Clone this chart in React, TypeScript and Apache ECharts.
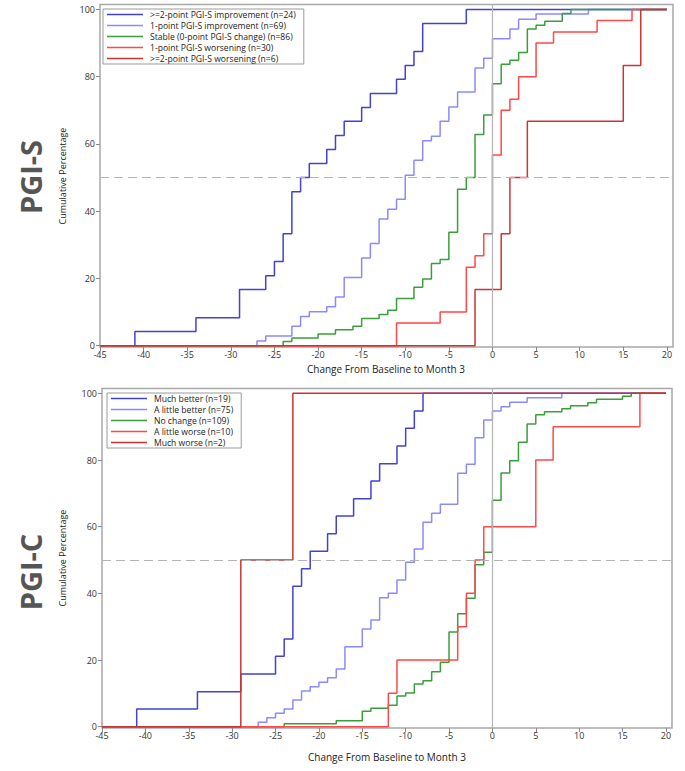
import React, { useEffect, useRef } from "react";
import * as echarts from "echarts";

// ---------- Data (change from baseline, cumulative %) ----------
const xTicks = [-45, -40, -35, -30, -25, -20, -15, -10, -5, 0, 5, 10, 15, 20];
const yTicks = [0, 20, 40, 60, 80, 100];

// PGI-S panel
const pgisNames = [
  ">=2-point PGI-S improvement (n=24)",
  "1-point PGI-S improvement (n=69)",
  "Stable (0-point PGI-S change) (n=86)",
  "1-point PGI-S worsening (n=30)",
  ">=2-point PGI-S worsening (n=6)",
];
const sImp2X = [-41, -34, -29, -26, -25, -24, -23, -22, -21, -19, -18, -17, -15, -14, -11, -10, -9, -8, -3];
const sImp2Y = [4.2, 8.3, 16.7, 20.8, 25.0, 33.3, 45.8, 50.0, 54.2, 58.3, 62.5, 66.7, 70.8, 75.0, 79.2, 83.3, 87.5, 95.8, 100];
const sImp1X = [-27, -26, -23, -22, -21, -19, -18, -17, -15, -14, -13, -12, -11, -10, -9, -8, -7, -6, -5, -4, -2, -1, 0, 2, 3, 5, 11];
const sImp1Y = [1.4, 2.9, 5.8, 8.7, 10.1, 11.6, 14.5, 20.3, 26.1, 30.4, 37.7, 40.6, 43.5, 50.7, 55.1, 60.9, 62.3, 66.7, 71.0, 75.4, 82.6, 85.5, 91.3, 94.2, 97.1, 98.6, 100];
const sStableX = [-24, -23, -20, -18, -16, -15, -13, -12, -11, -9, -8, -7, -6, -5, -4, -3, -2, -1, 0, 1, 2, 3, 4, 5, 6, 8, 9];
const sStableY = [1.2, 2.3, 3.5, 4.7, 5.8, 8.1, 9.3, 10.5, 14.0, 17.4, 19.8, 24.4, 25.6, 33.7, 46.5, 50.0, 62.8, 68.6, 77.9, 83.7, 84.9, 87.2, 94.2, 95.3, 96.5, 98.8, 100];
const sWor1X = [-11, -6, -3, -2, -1, 0, 1, 2, 3, 5, 7, 12, 16];
const sWor1Y = [6.7, 10.0, 23.3, 26.7, 33.3, 56.7, 70.0, 73.3, 80.0, 90.0, 93.3, 96.7, 100];
const sWor2X = [-2, 1, 2, 4, 15, 17];
const sWor2Y = [16.7, 33.3, 50.0, 66.7, 83.3, 100];

// PGI-C panel
const pgicNames = [
  "Much better (n=19)",
  "A little better (n=75)",
  "No change (n=109)",
  "A little worse (n=10)",
  "Much worse (n=2)",
];
const cMuchBetterX = [-41, -34, -29, -25, -24, -23, -22, -21, -19, -18, -16, -14, -13, -11, -10, -9, -8];
const cMuchBetterY = [5.3, 10.5, 15.8, 21.1, 26.3, 42.1, 47.4, 52.6, 57.9, 63.2, 68.4, 73.7, 78.9, 84.2, 89.5, 94.7, 100];
const cLittleBetterX = [-27, -26, -25, -24, -23, -22, -21, -20, -19, -18, -17, -15, -14, -13, -12, -11, -10, -9, -8, -7, -6, -4, -3, -2, -1, 0, 1, 2, 4, 8];
const cLittleBetterY = [1.3, 2.7, 4.0, 5.3, 8.0, 10.7, 12.0, 13.3, 14.7, 17.3, 24.0, 29.3, 32.0, 38.7, 40.0, 44.0, 49.3, 53.3, 61.3, 64.0, 66.7, 76.0, 78.7, 86.7, 92.0, 94.7, 96.0, 97.3, 98.7, 100];
const cNoChangeX = [-24, -18, -15, -14, -12, -11, -10, -9, -8, -7, -6, -5, -4, -3, -2, -1, 0, 1, 2, 3, 4, 5, 6, 8, 9, 11, 12, 15, 16];
const cNoChangeY = [0.9, 1.8, 4.6, 5.5, 6.4, 9.2, 10.1, 12.8, 13.8, 16.5, 19.3, 28.4, 33.9, 38.5, 48.6, 52.3, 67.9, 76.1, 79.8, 85.3, 90.8, 93.6, 94.5, 95.4, 96.3, 97.2, 98.2, 99.1, 100];
const cLittleWorseX = [-12, -11, -4, -3, -2, -1, 5, 7, 17];
const cLittleWorseY = [10, 20, 30, 40, 50, 60, 80, 90, 100];
const cMuchWorseX = [-29, -23];
const cMuchWorseY = [50, 100];

const colors = ["#4141D2", "#8A8AFF", "#3A9E3A", "#FF4848", "#CC3434"];

const X_MIN = -45;
const X_END = 20;

function steps(xs: number[], ys: number[]) {
  const pts: number[][] = [[X_MIN, 0]];
  xs.forEach((x, i) => pts.push([x, ys[i]]));
  pts.push([X_END, ys[ys.length - 1]]);
  return pts;
}

const FONT = "'Open Sans', 'Noto Sans', sans-serif";

export default function App() {
  const ref = useRef<HTMLDivElement>(null);
  useEffect(() => {
    if (!ref.current) return;
    const chart = echarts.init(ref.current, null, { renderer: "svg", width: 685, height: 771 });

    const grids = [
      { left: 100, top: 4.5, width: 573, height: 342.5, show: true, borderColor: "#A8A8A8", borderWidth: 1.5 },
      { left: 102, top: 388.5, width: 570, height: 339.5, show: true, borderColor: "#A8A8A8", borderWidth: 1.5 },
    ];

    const mkX = (gi: number) => ({
      type: "value",
      gridIndex: gi,
      min: X_MIN,
      max: 20.7,
      splitLine: { show: false },
      axisLine: { show: false, onZero: false },
      axisTick: { show: true, customValues: xTicks, length: 4, lineStyle: { color: "#888" } },
      axisLabel: { customValues: xTicks, fontSize: 9, color: "#333", fontFamily: FONT, margin: 3 },
    });
    const mkY = (gi: number) => ({
      type: "value",
      gridIndex: gi,
      min: -0.4,
      max: 101.45,
      splitLine: { show: false },
      axisLine: { show: false, onZero: false },
      axisTick: { show: true, customValues: yTicks, length: 4, lineStyle: { color: "#888" } },
      axisLabel: { customValues: yTicks, fontSize: 9, color: "#333", fontFamily: FONT, margin: 5 },
    });

    const refSeries = (gi: number) => ({
      type: "line",
      xAxisIndex: gi,
      yAxisIndex: gi,
      data: [],
      silent: true,
      z: 1,
      markLine: {
        silent: true,
        symbol: ["none", "none"],
        label: { show: false },
        data: [
          { yAxis: 50, lineStyle: { color: "#B4B4B4", type: [9, 5], width: 1.2 } },
          { xAxis: 0, lineStyle: { color: "#B4B4B4", type: "solid", width: 1.2 } },
        ],
      },
    });

    const mkSeries = (gi: number, name: string, color: string, data: number[][]) => ({
      type: "line",
      name,
      xAxisIndex: gi,
      yAxisIndex: gi,
      step: "end",
      data,
      symbol: "none",
      z: 3,
      lineStyle: { color, width: 1.5 },
      itemStyle: { color },
    });

    const topData = [
      steps(sImp2X, sImp2Y),
      steps(sImp1X, sImp1Y),
      steps(sStableX, sStableY),
      steps(sWor1X, sWor1Y),
      steps(sWor2X, sWor2Y),
    ];
    const botData = [
      steps(cMuchBetterX, cMuchBetterY),
      steps(cLittleBetterX, cLittleBetterY),
      steps(cNoChangeX, cNoChangeY),
      steps(cLittleWorseX, cLittleWorseY),
      steps(cMuchWorseX, cMuchWorseY),
    ];

    const legendBase = {
      orient: "vertical",
      selectedMode: false,
      icon: "rect",
      itemWidth: 36,
      itemHeight: 1.5,
      itemGap: 2,
      borderColor: "#9A9A9A",
      borderWidth: 1,
      backgroundColor: "#fff",
      padding: [1, 8, 1, 4],
      textStyle: { fontSize: 8.6, color: "#222", fontFamily: FONT, lineHeight: 9, padding: [0, 0, 0, 2] },
    };

    const graphicText = (x: number, y: number, text: string, size: number, weight: string, color: string, rot: number) => ({
      type: "text",
      x,
      y,
      rotation: rot,
      style: { text, fontSize: size, fontWeight: weight, fill: color, fontFamily: FONT, align: "center", verticalAlign: "middle" },
    });

    chart.setOption({
      animation: false,
      backgroundColor: "#fff",
      grid: grids,
      xAxis: [mkX(0), mkX(1)],
      yAxis: [mkY(0), mkY(1)],
      legend: [
        { ...legendBase, left: 103, top: 9, data: pgisNames },
        { ...legendBase, left: 107, top: 393, data: pgicNames },
      ],
      series: [
        refSeries(0),
        refSeries(1),
        ...pgisNames.map((n, i) => mkSeries(0, n, colors[i], topData[i])),
        ...pgicNames.map((n, i) => mkSeries(1, n, colors[i], botData[i])),
      ],
      graphic: [
        graphicText(30, 177, "PGI-S", 29, "bold", "#555", Math.PI / 2),
        graphicText(30, 572, "PGI-C", 29, "bold", "#555", Math.PI / 2),
        graphicText(62, 176, "Cumulative Percentage", 9, "normal", "#222", Math.PI / 2),
        graphicText(62, 558, "Cumulative Percentage", 9, "normal", "#222", Math.PI / 2),
        graphicText(386, 369, "Change From Baseline to Month 3", 10, "normal", "#222", 0),
        graphicText(387, 757, "Change From Baseline to Month 3", 10, "normal", "#222", 0),
      ],
    });
    return () => chart.dispose();
  }, []);
  return <div ref={ref} style={{ position: "fixed", left: 0, top: 0, width: 685, height: 771 }} />;
}
